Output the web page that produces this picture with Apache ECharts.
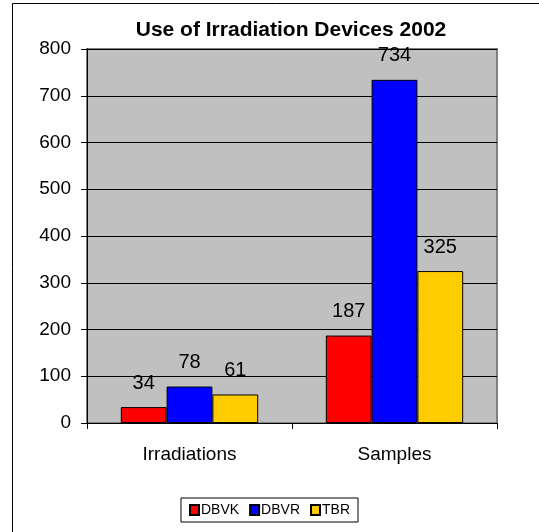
<!DOCTYPE html>
<html>
<head>
<meta charset="utf-8">
<script src="https://cdn.jsdelivr.net/npm/echarts@6/dist/echarts.min.js"></script>
<style>
  html, body { margin: 0; padding: 0; background: #ffffff; }
  #chart { width: 539px; height: 532px; }
</style>
</head>
<body>
<div id="chart"></div>
<script>
// Usage counts per irradiation device, 2002
const categories = ['Irradiations', 'Samples'];
const seriesNames = ['DBVK', 'DBVR', 'TBR'];
const dbvk = [34, 187];
const dbvr = [78, 734];
const tbr = [61, 325];
const colors = ['#ff0000', '#0000ff', '#ffcc00'];
const yTicks = { min: 0, max: 800, interval: 100 };

const FONT = 'Liberation Sans, Arial, sans-serif';

function makeSeries(name, values, color) {
  return {
    name: name,
    type: 'bar',
    data: values,
    barGap: '0%',
    barCategoryGap: '33%',
    itemStyle: { color: color, borderColor: '#000000', borderWidth: 1 },
    label: {
      show: true,
      position: 'top',
      distance: 14,
      color: '#000000',
      fontFamily: FONT,
      fontSize: 20
    }
  };
}

const chart = echarts.init(document.getElementById('chart'), null, { renderer: 'canvas' });
chart.setOption({
  animation: false,
  backgroundColor: '#ffffff',
  title: {
    text: 'Use of Irradiation Devices 2002',
    left: 286,
    textAlign: 'center',
    top: 15,
    textStyle: { fontFamily: FONT, fontSize: 21, fontWeight: 'bold', color: '#000000' }
  },
  grid: {
    left: 87, right: 42, top: 49, bottom: 109,
    show: true,
    backgroundColor: '#c0c0c0',
    borderColor: '#808080',
    borderWidth: 2
  },
  legend: {
    data: seriesNames,
    left: 'center',
    top: 498,
    icon: 'rect',
    itemWidth: 9,
    itemHeight: 10,
    itemGap: 10,
    padding: [5, 8, 5, 8],
    borderColor: '#000000',
    borderWidth: 1,
    backgroundColor: '#ffffff',
    textStyle: { fontFamily: FONT, fontSize: 14, color: '#000000', padding: [0, 0, 0, -3] }
  },
  xAxis: {
    type: 'category',
    data: categories,
    axisLine: { show: true, lineStyle: { color: '#000000', width: 1 } },
    axisTick: { show: true, alignWithLabel: false, length: 6, lineStyle: { color: '#000000' } },
    axisLabel: { color: '#000000', fontFamily: FONT, fontSize: 19, margin: 22 }
  },
  yAxis: {
    type: 'value',
    min: yTicks.min,
    max: yTicks.max,
    interval: yTicks.interval,
    axisLine: { show: true, lineStyle: { color: '#000000', width: 1 } },
    axisTick: { show: true, length: 6, lineStyle: { color: '#000000' } },
    axisLabel: { color: '#000000', fontFamily: FONT, fontSize: 19, margin: 16 },
    splitLine: { show: true, lineStyle: { color: '#000000', width: 1 } }
  },
  graphic: [{
    type: 'rect',
    shape: { x: 12.5, y: 3.5, width: 700, height: 700 },
    style: { fill: 'none', stroke: '#000000', lineWidth: 1 },
    silent: true
  }],
  series: [
    makeSeries(seriesNames[0], dbvk, colors[0]),
    makeSeries(seriesNames[1], dbvr, colors[1]),
    makeSeries(seriesNames[2], tbr, colors[2])
  ]
});
</script>
</body>
</html>
